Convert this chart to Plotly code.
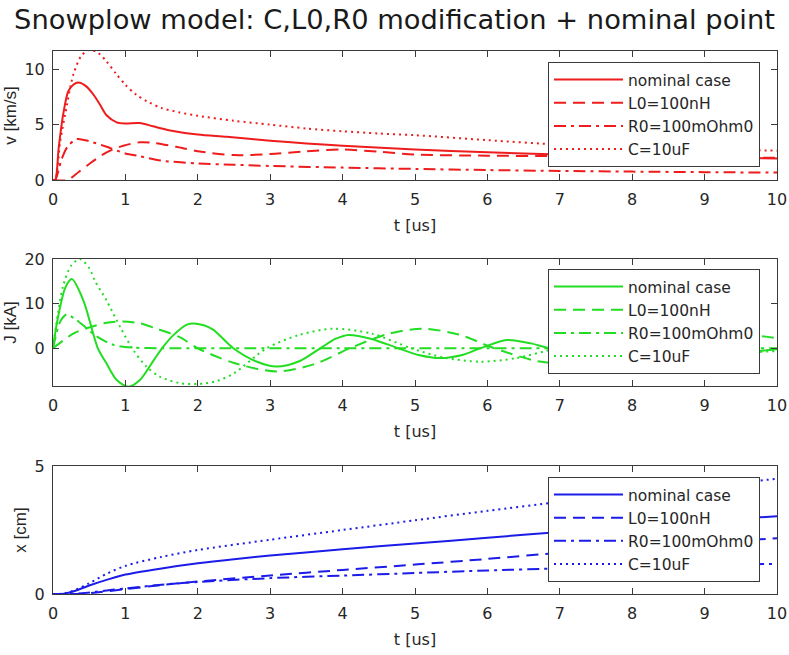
import plotly.graph_objects as go
from plotly.subplots import make_subplots

# ---------------- data ----------------
series_names = ["nominal case", "L0=100nH", "R0=100mOhm0", "C=10uF"]

# velocity v [km/s]
t_v_nom = [0, 0.03, 0.08, 0.14, 0.21, 0.28, 0.35, 0.45, 0.56, 0.65, 0.74, 0.88, 1.0, 1.2, 1.38, 1.6, 2.0, 2.4, 3.0, 3.5, 4.0, 5.0, 6.0, 7.0, 8.0, 9.0, 10.0]
v_nom = [0, 0, 3.0, 5.9, 8.0, 8.6, 8.8, 8.5, 7.7, 6.8, 5.85, 5.2, 5.1, 5.15, 4.85, 4.5, 4.1, 3.9, 3.55, 3.3, 3.1, 2.75, 2.5, 2.3, 2.15, 2.05, 1.95]
t_v_L0 = [0, 0.2, 0.35, 0.5, 0.74, 0.97, 1.2, 1.4, 1.7, 2.0, 2.5, 3.0, 3.5, 4.0, 4.5, 5.0, 6.0, 7.0, 8.0, 9.0, 10.0]
v_L0 = [0, 0, 0.7, 1.45, 2.5, 3.1, 3.4, 3.35, 3.0, 2.6, 2.25, 2.35, 2.6, 2.75, 2.55, 2.3, 2.2, 2.15, 2.1, 2.05, 2.0]
t_v_R0 = [0, 0.03, 0.12, 0.2, 0.33, 0.5, 0.74, 1.0, 1.2, 1.5, 2.0, 2.5, 3.0, 4.0, 5.0, 6.0, 7.0, 8.0, 9.0, 10.0]
v_R0 = [0, 0, 1.9, 3.0, 3.7, 3.5, 3.0, 2.4, 2.15, 1.75, 1.5, 1.38, 1.27, 1.12, 1.0, 0.9, 0.82, 0.76, 0.71, 0.67]
t_v_C = [0, 0.03, 0.1, 0.17, 0.28, 0.39, 0.5, 0.62, 0.74, 0.87, 1.0, 1.15, 1.3, 1.5, 1.75, 2.0, 2.5, 3.0, 3.5, 4.0, 4.5, 5.0, 6.0, 7.0, 8.0, 9.0, 10.0]
v_C = [0, 0, 3.5, 6.0, 9.5, 11.2, 11.75, 11.5, 10.7, 9.6, 8.6, 7.7, 7.1, 6.5, 6.1, 5.8, 5.35, 5.0, 4.65, 4.4, 4.2, 4.05, 3.6, 3.2, 3.0, 2.8, 2.65]

# current J [kA]
t_J_nom = [0, 0.07, 0.17, 0.26, 0.42, 0.62, 0.74, 0.88, 1.04, 1.2, 1.39, 1.52, 1.66, 1.85, 1.98, 2.2, 2.49, 2.8, 3.09, 3.4, 3.69, 3.9, 4.08, 4.4, 4.77, 5.05, 5.35, 5.65, 5.9, 6.27, 6.6, 6.85, 7.4, 7.95, 8.55, 9.05, 9.45, 10.0]
J_nom = [0.3, 7.0, 13.6, 15.5, 10.7, 0, -3.4, -7.1, -8.6, -7.1, -2.7, 0.3, 2.9, 5.3, 5.5, 4.3, 0, -2.9, -4.1, -2.9, 0, 2.1, 3.0, 2.1, 0, -1.5, -2.2, -1.5, 0, 1.85, 1.1, 0, -1.5, 0, 1.2, 0, -0.9, -0.2]
t_J_L0 = [0, 0.28, 0.51, 0.74, 0.97, 1.2, 1.43, 1.75, 2.0, 2.5, 3.09, 3.6, 4.1, 4.6, 5.1, 5.6, 6.1, 6.7, 7.3, 7.85, 8.4, 8.95, 9.45, 10.0]
J_L0 = [0, 3.3, 4.7, 5.7, 6.0, 5.6, 4.4, 2.5, 0, -3.3, -5.2, -3.6, 0, 3.1, 4.4, 3.1, 0, -2.9, -3.5, -2.4, 0, 2.3, 3.1, 2.3]
t_J_R0 = [0, 0.05, 0.1, 0.19, 0.3, 0.42, 0.6, 0.83, 1.1, 1.5, 2.0, 4.0, 7.0, 10.0]
J_R0 = [0, 3.5, 6.0, 7.6, 6.6, 5.1, 2.7, 0.8, 0.15, 0.02, 0, 0, 0, 0]
t_J_C = [0, 0.07, 0.14, 0.25, 0.37, 0.5, 0.58, 0.74, 0.93, 1.11, 1.29, 1.48, 1.75, 2.0, 2.25, 2.5, 2.95, 3.4, 3.87, 4.4, 4.95, 5.4, 5.9, 6.4, 6.95, 7.45, 7.95, 8.45, 9.0, 9.5, 10.0]
J_C = [0, 8.0, 14.0, 18.5, 20.0, 18.0, 15.1, 10.7, 4.7, -0.4, -4.1, -6.4, -7.8, -8.0, -7.4, -5.6, 0, 3.0, 4.4, 3.3, 0, -2.1, -3.0, -2.2, 0, 1.6, 2.2, 1.6, 0, -0.9, -0.6]

# position x [cm]
t_x_nom = [0, 0.15, 0.3, 0.5, 0.75, 1.0, 1.5, 2.0, 2.5, 3.0, 4.0, 5.0, 6.0, 7.0, 8.0, 9.0, 10.0]
x_nom = [0, 0.01, 0.12, 0.33, 0.56, 0.76, 1.0, 1.2, 1.36, 1.5, 1.75, 1.97, 2.2, 2.42, 2.63, 2.84, 3.04]
t_x_L0 = [0, 0.35, 0.6, 1.0, 1.5, 2.0, 3.0, 4.0, 5.0, 6.0, 7.0, 8.0, 9.0, 10.0]
x_L0 = [0, 0, 0.06, 0.19, 0.35, 0.49, 0.72, 0.94, 1.15, 1.37, 1.61, 1.8, 2.0, 2.18]
t_x_R0 = [0, 0.2, 0.4, 0.6, 1.0, 1.5, 2.0, 3.0, 4.0, 5.0, 6.0, 7.0, 8.0, 9.0, 10.0]
x_R0 = [0, 0, 0.03, 0.09, 0.22, 0.36, 0.47, 0.62, 0.72, 0.82, 0.92, 1.0, 1.07, 1.13, 1.18]
t_x_C = [0, 0.15, 0.3, 0.5, 0.75, 1.0, 1.5, 2.0, 3.0, 4.0, 5.0, 6.0, 7.0, 8.0, 9.0, 10.0]
x_C = [0, 0.02, 0.15, 0.42, 0.8, 1.1, 1.45, 1.72, 2.12, 2.5, 2.88, 3.25, 3.6, 3.92, 4.22, 4.5]

x_ticks = list(range(0, 11))
y_ticks_v = [0, 5, 10]
y_ticks_J = [0, 10, 20]
y_ticks_x = [0, 5]

# ---------------- styling ----------------
RED, GREEN, BLUE = "#ee1c1c", "#22dd22", "#1c1ce8"
dashes = ["solid", "12px,7px", "12px,5px,3px,5px", "2px,4px"]
AX = "#3a3a3a"
TXT = "#262626"
HFONT = "DejaVu Sans"

W, H = 789, 655

fig = make_subplots(rows=3, cols=1)

panels = [
    (1, RED, "legend", [(t_v_nom, v_nom), (t_v_L0, v_L0), (t_v_R0, v_R0), (t_v_C, v_C)]),
    (2, GREEN, "legend2", [(t_J_nom, J_nom), (t_J_L0, J_L0), (t_J_R0, J_R0), (t_J_C, J_C)]),
    (3, BLUE, "legend3", [(t_x_nom, x_nom), (t_x_L0, x_L0), (t_x_R0, x_R0), (t_x_C, x_C)]),
]
for row, col, leg, data in panels:
    for name, dash, (tt, yy) in zip(series_names, dashes, data):
        fig.add_trace(go.Scatter(x=tt, y=yy, mode="lines", name=name, legend=leg,
                                 line=dict(color=col, width=2, dash=dash, shape="spline", smoothing=0.8)),
                      row=row, col=1)

domains = [[0.7624, 1.0], [0.3831, 0.6169], [0.0, 0.2357]]
yranges = [[0, 11.65], [-8.44, 20], [0, 5]]
yticks = [y_ticks_v, y_ticks_J, y_ticks_x]
ytitles = ["v [km/s]", "J [kA]", "x [cm]"]

axis_common = dict(showline=True, linecolor=AX, linewidth=1, mirror="ticks", ticks="inside",
                   ticklen=6, tickcolor=AX, showgrid=False, zeroline=False, automargin=False,
                   tickfont=dict(family=HFONT, size=16, color=TXT))
for i in range(3):
    fig.update_xaxes(range=[0, 10], tickvals=x_ticks, ticklabelstandoff=5,
                     title=dict(text="t [us]", font=dict(family=HFONT, size=16, color=TXT), standoff=11),
                     row=i + 1, col=1, **axis_common)
    fig.update_yaxes(range=yranges[i], tickvals=yticks[i], domain=domains[i], ticklabelstandoff=4,
                     title=dict(text=ytitles[i], font=dict(family="Liberation Sans", size=17, color=TXT), standoff=3),
                     row=i + 1, col=1, **axis_common)

leg_common = dict(xanchor="left", yanchor="top", x=0.6837, bgcolor="white", bordercolor=AX,
                  borderwidth=1, font=dict(family=HFONT, size=15.5, color=TXT), tracegroupgap=0,
                  itemwidth=69)
fig.update_layout(
    width=W, height=H,
    margin=dict(l=53, r=12, t=51, b=61),
    paper_bgcolor="white", plot_bgcolor="white",
    showlegend=True,
    title=dict(text="Snowplow model: C,L0,R0 modification + nominal point", x=0.5, xref="container",
               xanchor="center", y=1 - 19.5 / H, yref="container", yanchor="middle",
               font=dict(family=HFONT, size=27.3, color="#1a1a1a")),
    legend=dict(y=0.9797, **leg_common),
    legend2=dict(y=0.5985, **leg_common),
    legend3=dict(y=0.2155, **leg_common),
)

# remove the page's default body margin so the figure fills the window exactly
fig.write_html("out.html", config={"displayModeBar": False},
               post_script="document.body.style.margin='0';document.body.style.overflow='hidden';")
